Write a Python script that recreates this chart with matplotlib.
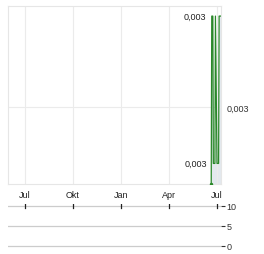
import matplotlib
matplotlib.use("Agg")
import matplotlib.pyplot as plt
import matplotlib.dates as mdates
import numpy as np
import datetime as dt

plt.rcParams['font.family'] = ['Liberation Sans', 'DejaVu Sans']

# data
price_dates = ["2024-06-20", "2024-06-21", "2024-06-23", "2024-06-24", "2024-06-27",
               "2024-06-28", "2024-07-01", "2024-07-04", "2024-07-05", "2024-07-08"]
price_values = [0.00262, 0.00345, 0.00345, 0.00272, 0.00272,
                0.00345, 0.00272, 0.00272, 0.00345, 0.00345]
month_ticks = ["2023-07-01", "2023-10-01", "2024-01-01", "2024-04-01", "2024-07-01"]
month_labels = ["Jul", "Okt", "Jan", "Apr", "Jul"]
max_label = "0,003"
min_label = "0,003"
last_label = "0,003"
vol_ticks = [0, 5, 10]
vol_labels = ["0", "5", "10"]

pd_ = [dt.datetime.fromisoformat(d) for d in price_dates]
mt = [dt.datetime.fromisoformat(d) for d in month_ticks]

W, H = 264, 255
fig = plt.figure(figsize=(W/100, H/100), dpi=100)

def rect(x0, y0, x1, y1):
    return [x0/W, 1-y1/H, (x1-x0)/W, (y1-y0)/H]

ax = fig.add_axes(rect(8, 7, 221, 185))
xmin = dt.datetime(2023, 5, 30, 12)
xmax = dt.datetime(2024, 7, 8, 14)
ax.set_xlim(xmin, xmax)
ax.set_ylim(0.002618, 0.0035)

ax.fill_between(pd_, price_values, 0.002618, color="#e3e9ee", zorder=1, lw=0)
ax.plot(pd_, price_values, color="#2a882a", lw=0.9, zorder=3)
ax.plot([pd_[0]], [price_values[0]], 'o', color="#2a882a", ms=1.5, zorder=4)

ax.set_xticks(mt)
ax.set_xticklabels(month_labels)
ax.set_yticks([0.003])
ax.yaxis.tick_right()
ax.set_yticklabels([last_label])
ax.grid(True, color="#ebebeb", lw=0.8)
ax.tick_params(axis='x', length=0, labelsize=6.5, colors="#222", pad=4.5)
ax.tick_params(axis='y', length=0, labelsize=6.5, colors="#333", pad=4)
for s in ax.spines.values():
    s.set_color("#e6e6e6")
    s.set_linewidth(0.8)

imax = int(np.argmax(price_values))
imin = int(np.argmin(price_values))
ax.annotate(max_label, (pd_[imax], price_values[imax]), xytext=(-4, 0),
            textcoords="offset points", ha="right", va="center", fontsize=6.5, color="#222")
ax.annotate(min_label, (pd_[imin], 0.00272), xytext=(-3, 0),
            textcoords="offset points", ha="right", va="center", fontsize=6.5, color="#222")

# volume panel
av = fig.add_axes(rect(8, 205, 221, 249))
av.set_xlim(xmin, xmax)
av.set_ylim(-0.5, 10.5)
for s in av.spines.values():
    s.set_visible(False)
av.set_yticks(vol_ticks)
av.set_yticklabels(vol_labels)
av.yaxis.tick_right()
for v in vol_ticks:
    av.axhline(v, color="#cccccc", lw=0.9, zorder=1)
av.tick_params(axis='y', length=3, width=0.8, colors="#333", labelsize=6.5, pad=1)
av.set_xticks(mt)
av.tick_params(axis='x', length=0, labelbottom=False)
for d in mt:
    av.plot([d, d], [9.6, 10.5], color="#222", lw=0.9, zorder=2)

fig.savefig("out.png", dpi=100)
